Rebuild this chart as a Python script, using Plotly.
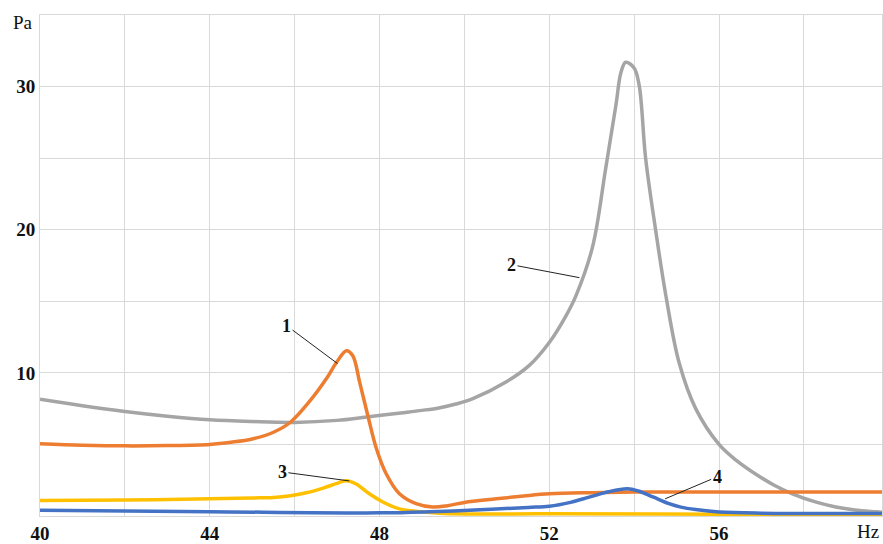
import plotly.graph_objects as go

# Frequency response curves (Hz -> Pa)
freq_1 = [40, 41, 42, 43, 44, 44.5, 45, 45.5, 45.9, 46.35, 46.75, 46.98, 47.22, 47.37, 47.53,
          47.73, 47.92, 48.16, 48.47, 48.86, 49.25, 49.6, 50.0, 50.75, 51.4, 52, 53, 54, 57, 60]
pa_1 = [5.05, 4.95, 4.9, 4.92, 5.0, 5.15, 5.38, 5.85, 6.55, 8.0, 9.6, 10.7, 11.55, 11.2, 9.37,
        6.95, 4.77, 2.93, 1.55, 0.86, 0.63, 0.72, 0.95, 1.2, 1.4, 1.55, 1.63, 1.67, 1.67, 1.67]

freq_2 = [40, 41, 42, 43, 44, 45, 46, 47, 47.7, 48.5, 49.0, 49.4, 49.8, 50.2, 50.98, 51.53,
          52.0, 52.39, 52.63, 53.02, 53.33, 53.57, 53.69, 53.8, 54.0, 54.12, 54.27, 54.51,
          54.75, 55.06, 55.45, 56, 56.4, 56.86, 57.3, 57.73, 58.25, 58.75, 59.2, 59.7, 60]
pa_2 = [8.15, 7.7, 7.3, 6.97, 6.72, 6.6, 6.54, 6.68, 6.92, 7.2, 7.38, 7.55, 7.82, 8.2, 9.36,
        10.52, 12.12, 13.97, 15.4, 18.8, 24.3, 28.7, 31.0, 31.7, 31.3, 30.05, 25.0, 19.9,
        15.35, 10.7, 7.5, 5.0, 3.9, 2.93, 2.15, 1.55, 1.0, 0.63, 0.42, 0.29, 0.22]

freq_3 = [40, 42, 44, 45, 45.5, 45.9, 46.3, 46.67, 47.0, 47.22, 47.45, 47.76, 48.08, 48.47,
          49.0, 49.5, 52, 56, 60]
pa_3 = [1.09, 1.12, 1.2, 1.26, 1.3, 1.42, 1.64, 1.95, 2.28, 2.47, 2.24, 1.55, 0.98, 0.5,
        0.29, 0.18, 0.15, 0.13, 0.1]

freq_4 = [40, 44, 48, 49.2, 50.5, 51.5, 52, 52.5, 52.94, 53.4, 53.84, 54.1, 54.27, 54.55,
          54.82, 55.1, 55.45, 56, 57, 60]
pa_4 = [0.4, 0.3, 0.22, 0.3, 0.45, 0.6, 0.68, 0.95, 1.32, 1.7, 1.9, 1.75, 1.55, 1.2,
        0.86, 0.62, 0.45, 0.28, 0.2, 0.18]

series = [
    (freq_2, pa_2, "#A5A5A5"),
    (freq_1, pa_1, "#ED7D31"),
    (freq_3, pa_3, "#FFC000"),
    (freq_4, pa_4, "#4472C4"),
]

x_ticks = [40, 44, 48, 52, 56]
y_ticks = [10, 20, 30]

fig = go.Figure()
for fx, fy, col in series:
    fig.add_trace(go.Scatter(x=fx, y=fy, mode="lines",
                             line=dict(color=col, width=3.5, shape="spline", smoothing=1.0),
                             showlegend=False, hoverinfo="skip"))

# Curve labels with leader lines
labels = [
    ("1", 47.01, 10.65, -51, -38),
    ("2", 52.71, 16.65, -68, -13),
    ("3", 47.29, 2.45, -67, -9),
    ("4", 54.73, 1.2, 52, -22),
]
for txt, lx, ly, ax, ay in labels:
    fig.add_annotation(x=lx, y=ly, ax=ax, ay=ay, text=f"<b>{txt}</b>", showarrow=True,
                       arrowhead=0, arrowwidth=1, arrowcolor="#222222",
                       font=dict(family="Liberation Serif", size=18, color="#111111"))

tick_font = dict(family="Liberation Serif", size=19, color="#111111")
unit_font = dict(family="Liberation Serif", size=19, color="#111111")

# Axis unit labels
fig.add_annotation(x=-5 / 843, y=1 - 8 / 507, xref="paper", yref="paper", text="Pa",
                   showarrow=False, xanchor="right", yanchor="middle", font=unit_font)
fig.add_annotation(x=1, y=0, xref="paper", yref="paper", text="Hz",
                   showarrow=False, xanchor="right", yanchor="top", yshift=-3, xshift=-1,
                   font=unit_font)

fig.update_layout(
    width=883, height=544,
    margin=dict(l=40, r=0, t=15, b=22),
    paper_bgcolor="white", plot_bgcolor="white",
    xaxis=dict(range=[40, 59.84], tickvals=x_ticks,
               ticktext=[f"<b>{v}</b>" for v in x_ticks], tickfont=tick_font,
               showgrid=True, gridcolor="#d9d9d9", gridwidth=1,
               minor=dict(dtick=2, tick0=40, showgrid=True, gridcolor="#d9d9d9", gridwidth=1),
               showline=True, linecolor="#d9d9d9", mirror=True, zeroline=False,
               ticks="", ticklen=0),
    yaxis=dict(range=[0, 35], tickvals=y_ticks,
               ticktext=[f"<b>{v}</b>" for v in y_ticks], tickfont=tick_font,
               showgrid=True, gridcolor="#d9d9d9", gridwidth=1,
               minor=dict(dtick=5, tick0=0, showgrid=True, gridcolor="#d9d9d9", gridwidth=1),
               showline=True, linecolor="#d9d9d9", mirror=True, zeroline=False,
               ticks="", ticklen=0),
)

fig.write_html("out.html")
